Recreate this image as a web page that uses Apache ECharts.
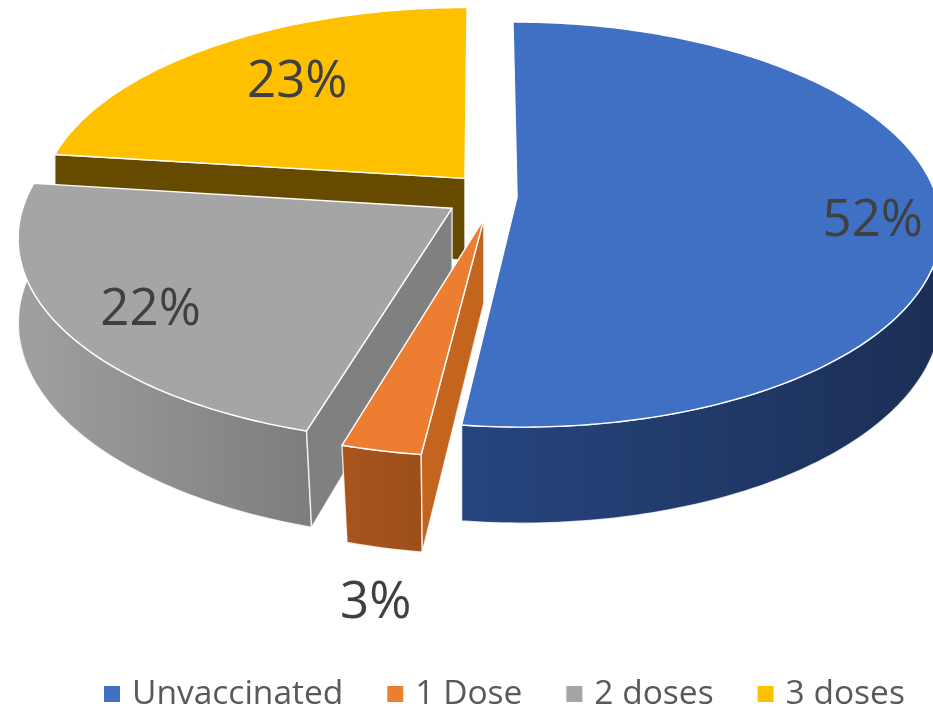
<!DOCTYPE html>
<html>
<head>
<meta charset="utf-8">
<style>html,body{margin:0;padding:0;background:#fff}#c{width:933px;height:710px}</style>
<script src="https://cdn.jsdelivr.net/npm/echarts@6/dist/echarts.min.js"></script>
</head>
<body>
<div id="c"></div>
<script>
// ---- data ----
const categories = ['Unvaccinated', '1 Dose', '2 doses', '3 doses'];
const shares = [52, 2.6, 22.4, 23];

// ---- style ----
const topColors = ['#3f70c4', '#ed7d31', '#a5a5a5', '#ffc000'];
const wallLeftColors = ['#26457f', '#a8551d', '#a0a0a0', '#654a00'];
const wallRightColors = ['#1b2f55', '#9c4f1a', '#7d7d7d', '#654a00'];
const sideWallColors = ['#1b2f55', '#c4651f', '#808080', '#654a00'];
const stackOrder = [2, 4, 3, 1];
const explode = [[0.08, 0], [0.002, 0.109], [-0.072, 0.056], [-0.043, -0.095]];
const widthScale = [0.985, 1, 1, 1];
const labelSpots = [[0.82, 0.12], [-0.199, 1.49], [-0.652, 0.475], [-0.43, -0.53]];

// projection of the pie plane (perspective ellipse)
const CX = 483, CY = 197, RX = 426, RY = 198.8, PERSP = 0.136, DEPTH = 83, FRONT_TAPER = 5;
function project(u, v) {
  const s = 1 / (1 - PERSP * v);
  return [CX + RX * u * s, CY + RY * v * s, s, v];
}
function drop(p) {
  const front = Math.max(0, Math.min(1, p[3]));
  const side = Math.max(0, Math.min(1, (CX - 40 - p[0]) / 100));
  return [p[0] + FRONT_TAPER * front * front * side, p[1] + DEPTH * p[2]];
}

const total = shares.reduce((a, b) => a + b, 0);

function renderSlice(index, params, api) {
  const value = api.value(0);
  const before = shares.slice(0, index).reduce((a, b) => a + b, 0);
  const start = before / total * 2 * Math.PI;
  const sweep = value / total * 2 * Math.PI;
  const [ox, oy] = explode[index];
  const steps = Math.max(6, Math.ceil(sweep * 60));
  const arc = [];
  for (let i = 0; i <= steps; i++) {
    const t = start + sweep * i / steps;
    arc.push(project(ox + widthScale[index] * Math.sin(t), oy - Math.cos(t)));
  }
  const apex = project(ox, oy);
  const frontArc = arc.filter(p => p[3] >= -0.35);
  const xy = p => [p[0], p[1]];
  const children = [];
  const edge = { stroke: '#ffffff', lineWidth: 1.4, lineJoin: 'round' };
  children.push({
    type: 'polygon',
    shape: { points: frontArc.map(xy).concat(frontArc.map(drop).reverse()) },
    style: Object.assign({
      fill: new echarts.graphic.LinearGradient(0, 0, 1, 0, [
        { offset: 0, color: wallLeftColors[index] },
        { offset: 1, color: wallRightColors[index] }
      ])
    }, edge, { strokeOpacity: 0.8 })
  });
  if (before > 0) {
    children.push({
      type: 'polygon',
      shape: { points: [xy(apex), xy(arc[0]), drop(arc[0]), drop(apex)] },
      style: Object.assign({ fill: sideWallColors[index] }, edge, { strokeOpacity: 0.8 })
    });
  }
  children.push({
    type: 'polygon',
    shape: { points: [xy(apex)].concat(arc.map(xy)) },
    style: Object.assign({ fill: topColors[index] }, edge)
  });
  const spot = project(ox + labelSpots[index][0], oy + labelSpots[index][1]);
  children.push({
    type: 'text',
    z2: 10,
    style: {
      text: Math.round(value) + '%',
      x: spot[0], y: spot[1],
      align: 'center', verticalAlign: 'middle',
      fill: '#404040',
      font: '51px "Open Sans"'
    }
  });
  return { type: 'group', children };
}

const chart = echarts.init(document.getElementById('c'), null, { renderer: 'canvas' });
chart.setOption({
  animation: false,
  backgroundColor: '#ffffff',
  legend: {
    data: categories,
    left: 99,
    top: 672,
    icon: 'rect',
    itemWidth: 16,
    itemHeight: 16,
    itemGap: 44,
    selectedMode: false,
    textStyle: { color: '#595959', fontFamily: 'Open Sans', fontSize: 33.5, padding: [0, 0, 0, 7] }
  },
  series: categories.map((name, i) => ({
    type: 'custom',
    name,
    coordinateSystem: 'none',
    z: stackOrder[i],
    silent: true,
    clip: false,
    itemStyle: { color: topColors[i] },
    data: [[shares[i]]],
    renderItem: (params, api) => renderSlice(i, params, api)
  }))
});
</script>
</body>
</html>
